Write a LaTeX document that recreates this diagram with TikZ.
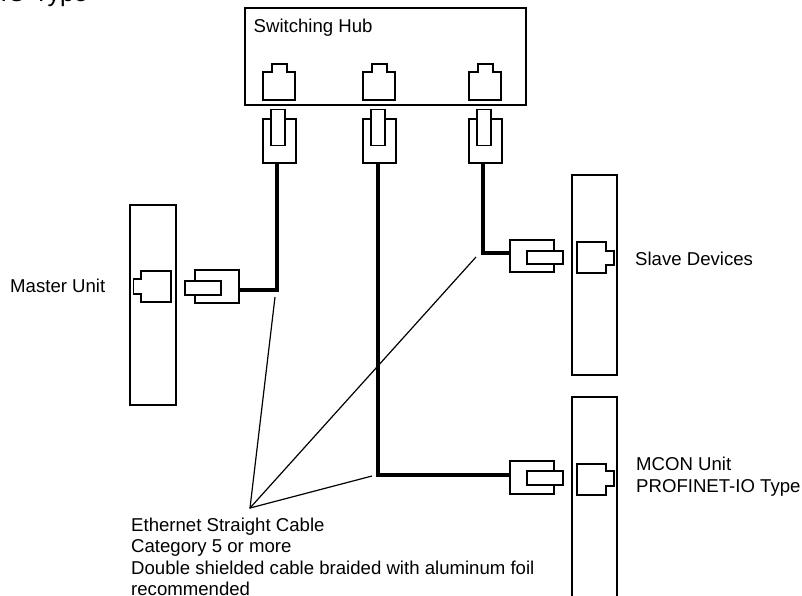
\documentclass[tikz,border=0pt]{standalone}
\usepackage{fontspec}
\setmainfont{Liberation Sans}
\tikzset{
  unitbox/.style={draw,line width=1.3pt,minimum width=#1,inner sep=0pt},
  plugbody/.style={draw,line width=1.5pt,fill=white,inner sep=0pt},
  jackline/.style={line width=1.5pt},
  cable/.style={line width=3.3pt},
  leader/.style={line width=1.2pt},
  lbl/.style={font=\fontsize{18.6}{21.5}\selectfont,align=left,inner sep=0pt}
}
\begin{document}
\begin{tikzpicture}[x=1pt,y=-1pt]
  \clip (0,0) rectangle (802,595);
  % clipped line left over at the top
  \node[font=\fontsize{25}{30}\selectfont,anchor=base east,inner sep=0pt] (oldtype) at (88,1) {-IO Type};
  % Hub
  \node[unitbox=281pt,minimum height=97pt] (hub) at (385.5,56.5) {};
  \node[lbl,anchor=west] (hublbl) at (253.5,27.5) {Switching Hub};
  \foreach \x in {263,363,469}
    \draw[jackline] (\x,100) -- (\x,72) -- (\x+9,72) -- (\x+9,64) -- (\x+24,64) -- (\x+24,72) -- (\x+32,72) -- (\x+32,100) -- cycle;
  \foreach \x/\n in {279.5/A,379.5/B,485.5/C} {
    \node[plugbody,minimum width=33pt,minimum height=44pt] (hubplug\n) at (\x,141) {};
    \node[plugbody,minimum width=14pt,minimum height=36pt] (hubtab\n) at (\x-1.5,127.5) {};
  }
  % Master
  \node[unitbox=46pt,minimum height=200pt] (master) at (153,305) {};
  \node[lbl,anchor=west] (masterlbl) at (10,286) {Master Unit};
  \draw[jackline] (171,271) -- (141,271) -- (141,279) -- (133.5,279) -- (133.5,294) -- (141,294) -- (141,302) -- (171,302) -- cycle;
  \node[plugbody,minimum width=44pt,minimum height=33pt] (masterplug) at (217,286.5) {};
  \node[plugbody,minimum width=36pt,minimum height=14pt] (mastertab) at (203,288) {};
  % Slave
  \node[unitbox=45pt,minimum height=200pt] (slave) at (594.5,275) {};
  \node[lbl,anchor=west] (slavelbl) at (635,258.5) {Slave Devices};
  \draw[jackline] (577,242) -- (606,242) -- (606,251) -- (614,251) -- (614,265) -- (606,265) -- (606,273) -- (577,273) -- cycle;
  \node[plugbody,minimum width=44pt,minimum height=32pt] (slaveplug) at (532,256) {};
  \node[plugbody,minimum width=36pt,minimum height=13pt] (slavetab) at (545,257.5) {};
  % MCON
  \node[unitbox=45pt,minimum height=240pt] (mcon) at (594.5,517) {};
  \node[lbl,anchor=north west] (mconlbl) at (636,457) {MCON Unit\\PROFINET-IO Type};
  \draw[jackline] (577,464) -- (606,464) -- (606,471) -- (614,471) -- (614,486) -- (606,486) -- (606,495) -- (577,495) -- cycle;
  \node[plugbody,minimum width=44pt,minimum height=33pt] (mconplug) at (532,477.5) {};
  \node[plugbody,minimum width=36pt,minimum height=14pt] (mcontab) at (545,478) {};
  % Cables
  \coordinate (bendA) at (277,290);
  \coordinate (bendB) at (378,475);
  \coordinate (bendC) at (483,253);
  \draw[cable] (bendA |- hubplugA.south) -- (bendA) -- (bendA -| masterplug.east);
  \draw[cable] (bendB |- hubplugB.south) -- (bendB) -- (bendB -| mconplug.west);
  \draw[cable] (bendC |- hubplugC.south) -- (bendC) -- (bendC -| slaveplug.west);
  % Leaders
  \coordinate (apex) at (250,508);
  \coordinate (tipA) at (275,297);
  \coordinate (tipB) at (372,476);
  \coordinate (tipC) at (476,257);
  \draw[leader] (tipA) -- (apex) -- (tipB);
  \draw[leader] (apex) -- (tipC);
  \node[lbl,anchor=north west] (cablelbl) at (131,517.5) {Ethernet Straight Cable\\Category 5 or more\\Double shielded cable braided with aluminum foil\\recommended};
\end{tikzpicture}
\end{document}
